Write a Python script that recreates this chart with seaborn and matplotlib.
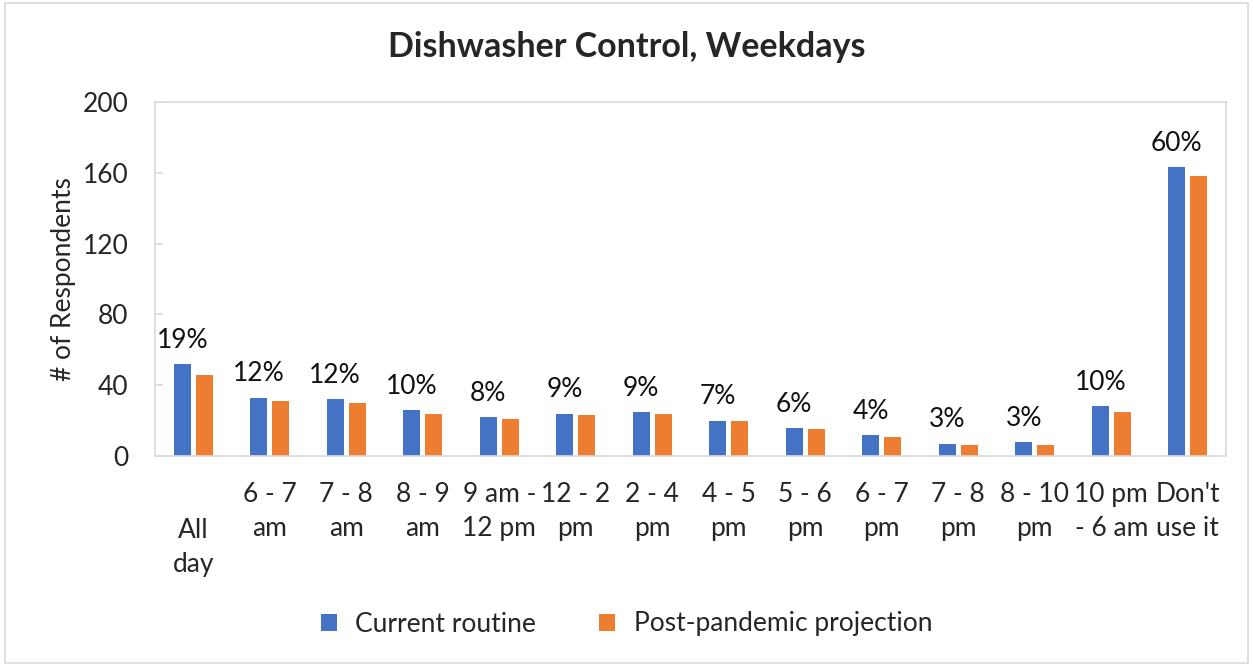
import matplotlib
matplotlib.use("Agg")
import matplotlib.pyplot as plt
import matplotlib.transforms as mtransforms
from matplotlib.patches import Rectangle
import seaborn as sns
import pandas as pd

categories = ["All\nday", "6 - 7\nam", "7 - 8\nam", "8 - 9\nam", "9 am -\n12 pm",
              "12 - 2\npm", "2 - 4\npm", "4 - 5\npm", "5 - 6\npm", "6 - 7\npm",
              "7 - 8\npm", "8 - 10\npm", "10 pm\n- 6 am", "Don't\nuse it"]
current_routine = [52, 33, 32, 26, 22, 24, 25, 20, 16, 12, 7, 8, 28, 163]
post_pandemic = [46, 31, 30, 24, 21, 23, 24, 20, 15, 11, 6, 6, 25, 158]
pct_labels = ["19%", "12%", "12%", "10%", "8%", "9%", "9%", "7%", "6%", "4%",
              "3%", "3%", "10%", "60%"]
series_names = ["Current routine", "Post-pandemic projection"]
colors = ["#4472C4", "#ED7D31"]
title = "Dishwasher Control, Weekdays"
ylabel = "# of Respondents"
yticks = [0, 40, 80, 120, 160, 200]

sns.set_theme(style="white")
plt.rcParams["font.family"] = ["Lato", "DejaVu Sans"]

FS = 19

df = pd.DataFrame({
    "Category": categories * 2,
    "Value": current_routine + post_pandemic,
    "Series": [series_names[0]] * len(categories) + [series_names[1]] * len(categories),
})

fig = plt.figure(figsize=(12.53, 6.66), dpi=100)
ax = fig.add_axes([155 / 1253, 1 - 456 / 666, (1226 - 155) / 1253, (456 - 102) / 666])

sns.barplot(data=df, x="Category", y="Value", hue="Series", order=categories,
            hue_order=series_names, palette=colors, width=0.575, gap=0.235,
            saturation=1, linewidth=0, ax=ax, legend=True)

ax.set_ylim(0, 200)
ax.set_xlim(-0.5, len(categories) - 0.5)
ax.set_yticks(yticks)
ax.set_xlabel("")
ax.set_ylabel(ylabel, fontsize=FS, labelpad=5)
ax.tick_params(axis="y", labelsize=FS, length=6, width=1.2, color="#d9d9d9", direction="in",
               pad=19, left=True)
ax.tick_params(axis="x", labelsize=FS, length=0, pad=19)
for lab in ax.get_xticklabels():
    lab.set_linespacing(1.45)
for sp in ax.spines.values():
    sp.set_color("#d9d9d9")
    sp.set_linewidth(1.2)

# shift the first category label down one line (as in the reference)
first = ax.get_xticklabels()[0]
first.set_transform(first.get_transform() + mtransforms.ScaledTranslation(0, -36 / 100, fig.dpi_scale_trans))

# percentage labels above the blue bars
blue_bars = ax.containers[0]
for bar, txt in zip(blue_bars, pct_labels):
    ax.annotate(txt, (bar.get_x() + bar.get_width() / 2, bar.get_height()),
                xytext=(0, 8), textcoords="offset points", ha="center", va="bottom",
                fontsize=FS, color="#111111")

fig.suptitle(title, fontsize=24.5, fontweight="bold", y=1 - 47 / 666, va="center")

leg = ax.legend(loc="center", bbox_to_anchor=(0.5, 1 - 624 / 666), bbox_transform=fig.transFigure,
                ncol=2, frameon=False, fontsize=FS, handlelength=0.6, handleheight=0.6,
                handletextpad=0.7, columnspacing=2.4)

fig.patches.append(Rectangle((0.004, 0.005), 0.992, 0.99, transform=fig.transFigure,
                             fill=False, edgecolor="#d9d9d9", linewidth=1.2))

fig.savefig("out.png", dpi=100, facecolor="white")
